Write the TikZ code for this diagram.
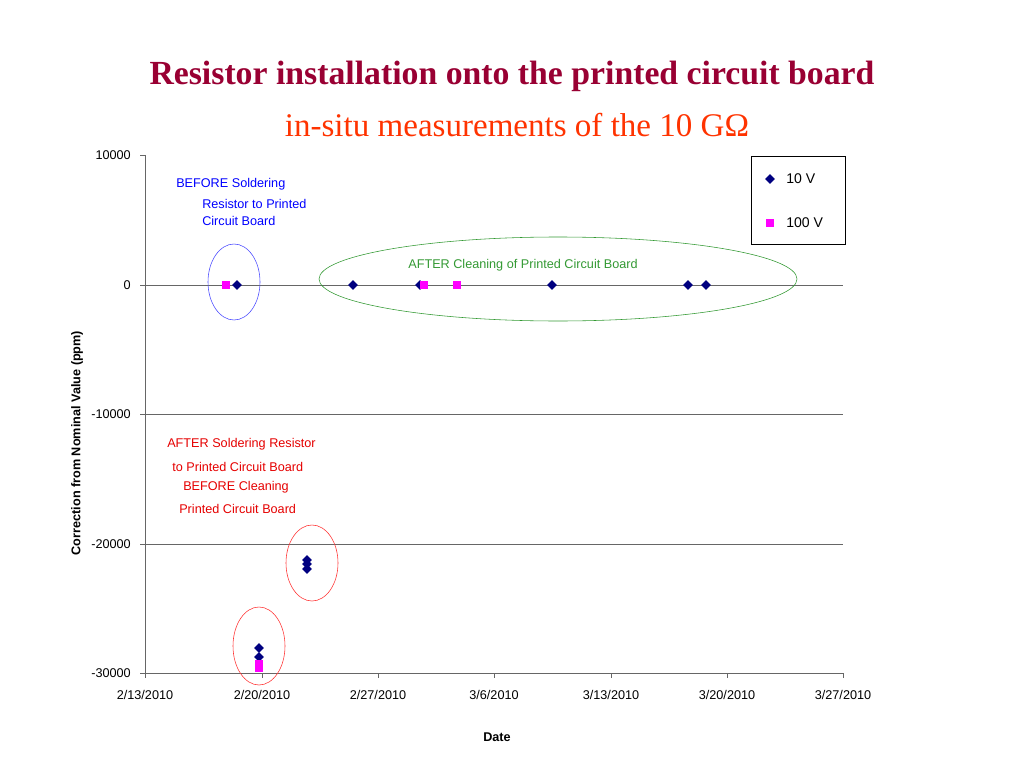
\documentclass[tikz,border=0pt]{standalone}
\usepackage{fontspec}
\setmainfont{Liberation Serif}
\setsansfont{Liberation Sans}
\usepackage{tikz}
\usetikzlibrary{calc}
\usetikzlibrary{shapes.geometric}
\definecolor{titlered}{HTML}{990033}
\definecolor{subred}{HTML}{FF3300}
\definecolor{navy}{HTML}{000080}
\definecolor{lgreen}{HTML}{339933}
\definecolor{pmag}{HTML}{FF00FF}
\tikzset{
  dia/.style={fill=navy, shape=diamond, inner sep=0pt, minimum size=7pt},
  sq/.style={fill=pmag, inner sep=0pt, minimum size=6pt},
  lbl/.style={font=\sffamily\fontsize{9}{10}\selectfont, inner sep=0pt},
  grid line/.style={gray!80!black, line width=0.6pt},
}
\begin{document}
\begin{tikzpicture}[x=0.025cm, y=-0.025cm]
\useasboundingbox (0,0) rectangle (1024,768);

%%%%%%%%%%%%%%%%%%%%%%%%%%%%%%%%%%%%%%%%%%%%%%%%%%%%%%%%%%%%%% titles
\node[text=titlered, font=\bfseries\fontsize{24}{28}\selectfont] (title) at (512,76) {Resistor installation onto the printed circuit board};
\node[text=subred, font=\fontsize{23.5}{27}\selectfont] (subtitle) at (517,125) {in-situ measurements of the 10 G\symbol{"03A9}};

%%%%%%%%%%%%%%%%%%%%%%%%%%%%%%%%%%%%%%%%%%%%%%%%%%%%%%%%%%%%%% axes
\foreach \y in {285, 414, 544}
  \draw[grid line] (145,\y) -- (843,\y);
\draw[grid line] (145,155) -- (145,673) -- (843,673);
\foreach \y/\v in {155/10000, 285/0, 414/-10000, 544/-20000, 673/-30000}{
  \draw[grid line] (140,\y) -- (145,\y);
  \node[lbl, anchor=east] at (131,\y) {\v};
}
\foreach \x in {145, 262, 378, 494, 611, 727, 843}
  \draw[grid line] (\x,673) -- (\x,678);
\foreach \x/\d in {145/{2/13/2010}, 262/{2/20/2010}, 378/{2/27/2010}, 494/{3/6/2010}, 611/{3/13/2010}, 727/{3/20/2010}, 843/{3/27/2010}}
  \node[lbl] at (\x,695) {\d};
\node[lbl, font=\sffamily\bfseries\fontsize{9}{10}\selectfont] (xlabel) at (497,737) {Date};
\node[lbl, font=\sffamily\bfseries\fontsize{9}{10}\selectfont, rotate=90] (ylabel) at (77,443) {Correction from Nominal Value (ppm)};

%%%%%%%%%%%%%%%%%%%%%%%%%%%%%%%%%%%%%%%%%%%%%%%%%%%%%%%%%%%%%% data
\foreach \x in {237,353,420,552,688,706}
  \node[dia] at (\x,285) {};
\foreach \x in {226,424,457}
  \node[sq] at (\x,285) {};
\foreach \y in {560,564,569}
  \node[dia] at (307,\y) {};
\foreach \y in {648,657}
  \node[dia] at (259,\y) {};
\fill[pmag] (255,660) rectangle (263,672);

%%%%%%%%%%%%%%%%%%%%%%%%%%%%%%%%%%%%%%%%%%%%%%%%%%%%%%%%%%%%%% groups
\draw[blue!70] (234,282) ellipse [x radius=26, y radius=38];
\draw[lgreen] (558,279) ellipse [x radius=239, y radius=42];
\draw[red!80] (312,563) ellipse [x radius=26, y radius=38];
\draw[red!80] (259,646) ellipse [x radius=26, y radius=39];

\node[lbl, text=blue, anchor=west] (before) at (176,184) {BEFORE Soldering};
\node[lbl, text=blue, anchor=west] (before2) at (202,204) {Resistor to Printed};
\node[lbl, text=blue, anchor=west] (before3) at (202,221) {Circuit Board};
\node[lbl, text=lgreen] (after) at (523,265) {AFTER Cleaning of Printed Circuit Board};
\node[lbl, text=red!90!black, anchor=west] (solder) at (167,444) {AFTER Soldering Resistor};
\node[lbl, text=red!90!black, anchor=west] (solder2) at (172,467) {to Printed Circuit Board};
\node[lbl, text=red!90!black, anchor=west] (solder3) at (183,487) {BEFORE Cleaning};
\node[lbl, text=red!90!black, anchor=west] (solder4) at (179,509) {Printed Circuit Board};

%%%%%%%%%%%%%%%%%%%%%%%%%%%%%%%%%%%%%%%%%%%%%%%%%%%%%%%%%%%%%% legend
\draw[black, line width=0.6pt] (751,156) rectangle (845,244);
\node[dia] (leg10) at (770,179) {};
\node[lbl, anchor=west, font=\sffamily\fontsize{10}{12}\selectfont] at (786,179) {10 V};
\node[sq] (leg100) at (770,223) {};
\node[lbl, anchor=west, font=\sffamily\fontsize{10}{12}\selectfont] at (786,223) {100 V};
\end{tikzpicture}
\end{document}
